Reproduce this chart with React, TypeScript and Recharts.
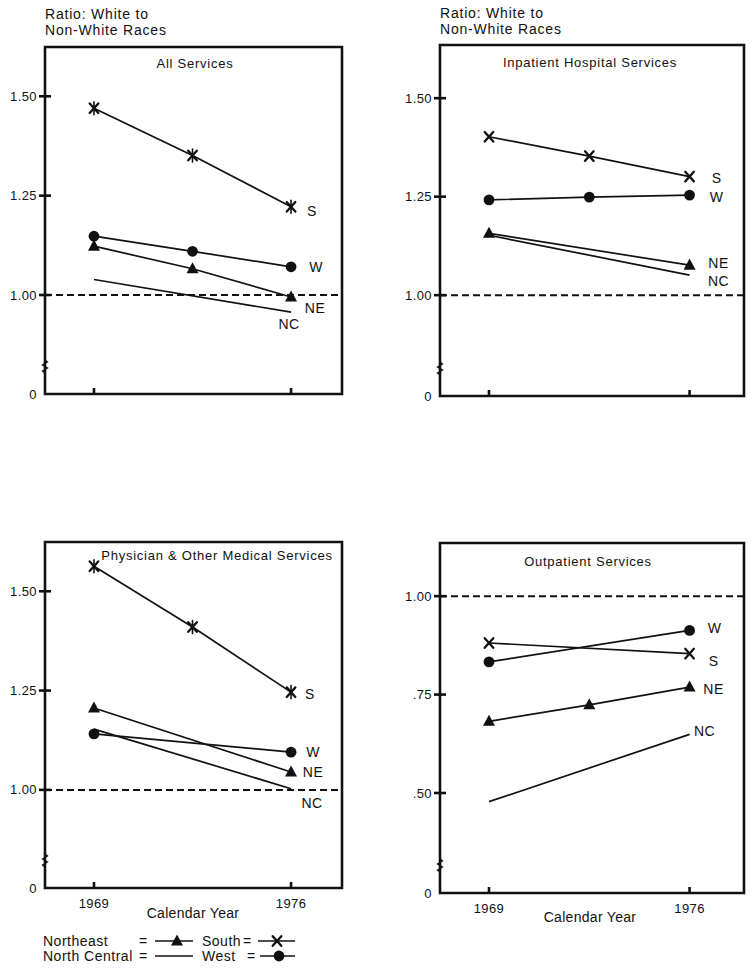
import React from 'react';
import { LineChart, Line, XAxis, YAxis, ReferenceLine, ReferenceArea } from 'recharts';

const FONT = '"Liberation Sans", Arial, Helvetica, sans-serif';
const INK = '#111';

// ---- categories ----
const years = [1969, 1972.5, 1976];
const yearTicks = [1969, 1976];
const regionKeys = ['ne', 'nc', 's', 'w'];
const regionShort: Record<string, string> = { ne: 'NE', nc: 'NC', s: 'S', w: 'W' };
const legendNames = ['Northeast', 'North Central', 'South', 'West'];
const panelTitles = [
  'All Services',
  'Inpatient Hospital Services',
  'Physician & Other Medical Services',
  'Outpatient Services',
];
const axisTitleLines = ['Ratio: White to', 'Non-White Races'];
const xAxisTitle = 'Calendar Year';

// ---- series values (ratio white : non-white) ----
// All Services
const allNE = [1.123, 1.066, 0.995];
const allNC = [1.039, null, 0.957];
const allS = [1.47, 1.351, 1.222];
const allW = [1.148, 1.11, 1.071];
// Inpatient Hospital Services
const inpNE = [1.157, null, 1.076];
const inpNC = [1.152, null, 1.051];
const inpS = [1.402, 1.353, 1.301];
const inpW = [1.242, 1.249, 1.254];
// Physician & Other Medical Services
const phyNE = [1.206, null, 1.045];
const phyNC = [1.153, null, 1.003];
const phyS = [1.563, 1.41, 1.246];
const phyW = [1.141, null, 1.095];
// Outpatient Services
const outNE = [0.682, 0.724, 0.769];
const outNC = [0.478, null, 0.649];
const outS = [0.881, null, 0.854];
const outW = [0.833, null, 0.913];

// ---- tick values / labels (bottom tick is a broken-axis "0") ----
const allTicks = [0.751, 1.0, 1.25, 1.5];
const inpTicks = [0.744, 1.0, 1.25, 1.5];
const phyTicks = [0.753, 1.0, 1.25, 1.5];
const outTicks = [0.246, 0.5, 0.75, 1.0];
const upperTickLabels = ['0', '1.00', '1.25', '1.50'];
const outTickLabels = ['0', '.50', '.75', '1.00'];

const buildRows = (ne: any[], nc: any[], s: any[], w: any[]) =>
  years.map((year, i) => ({ year, ne: ne[i], nc: nc[i], s: s[i], w: w[i] }));

function Marker({ kind, cx, cy, star }: any) {
  if (kind === 'ne') {
    const s = 6;
    return (
      <polygon
        points={`${cx},${cy - s - 0.6} ${cx + s},${cy + s * 0.75} ${cx - s},${cy + s * 0.75}`}
        fill={INK}
      />
    );
  }
  if (kind === 'w') return <circle cx={cx} cy={cy} r={5.4} fill={INK} />;
  if (kind === 's') {
    const a = 4.3;
    return (
      <g stroke={INK} strokeWidth={2.3} strokeLinecap="round">
        <line x1={cx - a} y1={cy - a - 0.5} x2={cx + a} y2={cy + a + 0.5} />
        <line x1={cx + a} y1={cy - a - 0.5} x2={cx - a} y2={cy + a + 0.5} />
        {star && <line x1={cx} y1={cy - 6.5} x2={cx} y2={cy + 6.5} strokeWidth={1.6} />}
      </g>
    );
  }
  return null;
}

function makeDot(kind: string, off: number[], star: boolean) {
  return (props: any) => {
    const { cx, cy, index, value } = props;
    const key = `dot-${kind}-${index}`;
    if (cx == null || cy == null || value == null || Number.isNaN(cy)) return <g key={key} />;
    const last = index === years.length - 1;
    return (
      <g key={key}>
        {kind !== 'nc' && <Marker kind={kind} cx={cx} cy={cy} star={star} />}
        {last && (
          <text
            x={cx + off[0]}
            y={cy + off[1]}
            textAnchor="middle"
            dominantBaseline="central"
            fontSize={14}
            fontFamily={FONT}
            fill={INK}
            letterSpacing={0.5}
          >
            {regionShort[kind]}
          </text>
        )}
      </g>
    );
  };
}

function makeYTick(ticks: number[], labels: string[]) {
  return (props: any) => {
    const { x, y, payload } = props;
    const i = ticks.indexOf(payload.value);
    const isBase = i === 0;
    return (
      <g>
        {!isBase && <rect x={x - 6} y={y - 1.3} width={12} height={2.6} fill={INK} />}
        {isBase && (
          <path
            d={`M${x},${y - 34} l2.5,2 l-5,3 l5,3 l-5,3 l2.5,2`}
            fill="none"
            stroke={INK}
            strokeWidth={1.3}
          />
        )}
        <text
          x={x - 8}
          y={y}
          textAnchor="end"
          dominantBaseline="central"
          fontSize={13}
          fontFamily={FONT}
          fill={INK}
          letterSpacing={0.4}
        >
          {labels[i]}
        </text>
      </g>
    );
  };
}

function makeXTick(labelDy: number | null) {
  return (props: any) => {
    const { x, y, payload } = props;
    return (
      <g>
        <rect x={x - 1.3} y={y - 6} width={2.6} height={6} fill={INK} />
        {labelDy != null && (
          <text
            x={x}
            y={y + labelDy}
            textAnchor="middle"
            dominantBaseline="central"
            fontSize={13}
            fontFamily={FONT}
            fill={INK}
            letterSpacing={0.4}
          >
            {payload.value}
          </text>
        )}
      </g>
    );
  };
}

const panels = [
  {
    id: 'all',
    rows: buildRows(allNE, allNC, allS, allW),
    ticks: allTicks,
    tickLabels: upperTickLabels,
    xDomain: [1967.26, 1977.81],
    yDomain: [0.751, 1.624],
    star: true,
    offsets: { s: [21, 4], w: [25, 0], ne: [24, 11], nc: [-2, 12] } as any,
    layout: { left: 0, top: 0, width: 377, height: 420, margin: { top: 47, right: 35, bottom: 0, left: 0 }, yAxisWidth: 45, xAxisHeight: 26 },
    yearLabelDy: null,
  },
  {
    id: 'inp',
    rows: buildRows(inpNE, inpNC, inpS, inpW),
    ticks: inpTicks,
    tickLabels: upperTickLabels,
    xDomain: [1967.29, 1977.9],
    yDomain: [0.744, 1.635],
    star: false,
    offsets: { s: [27, 1], w: [27, 2], ne: [29, -2], nc: [29, 6] } as any,
    layout: { left: 377, top: 0, width: 377, height: 420, margin: { top: 45, right: 10, bottom: 0, left: 0 }, yAxisWidth: 63, xAxisHeight: 24 },
    yearLabelDy: null,
  },
  {
    id: 'phy',
    rows: buildRows(phyNE, phyNC, phyS, phyW),
    ticks: phyTicks,
    tickLabels: upperTickLabels,
    xDomain: [1967.26, 1977.81],
    yDomain: [0.753, 1.624],
    star: true,
    offsets: { s: [19, 2], w: [22, 0], ne: [22, 0], nc: [21, 14] } as any,
    layout: { left: 0, top: 490, width: 377, height: 450, margin: { top: 52, right: 35, bottom: 0, left: 0 }, yAxisWidth: 45, xAxisHeight: 52 },
    yearLabelDy: 15,
  },
  {
    id: 'out',
    rows: buildRows(outNE, outNC, outS, outW),
    ticks: outTicks,
    tickLabels: outTickLabels,
    xDomain: [1967.29, 1977.9],
    yDomain: [0.246, 1.135],
    star: false,
    offsets: { w: [25, -2], s: [24, 7], ne: [24, 2], nc: [15, -3] } as any,
    layout: { left: 377, top: 490, width: 377, height: 450, margin: { top: 53, right: 10, bottom: 0, left: 0 }, yAxisWidth: 63, xAxisHeight: 47 },
    yearLabelDy: 15,
  },
];

function Panel({ p }: any) {
  const L = p.layout;
  return (
    <div style={{ position: 'absolute', left: L.left, top: L.top }}>
      <LineChart width={L.width} height={L.height} data={p.rows} margin={L.margin}>
        <ReferenceArea
          x1={p.xDomain[0]}
          x2={p.xDomain[1]}
          y1={p.yDomain[0]}
          y2={p.yDomain[1]}
          fill="none"
          fillOpacity={0}
          stroke={INK}
          strokeWidth={2.6}
          ifOverflow="visible"
        />
        <ReferenceLine y={1} stroke={INK} strokeWidth={2} strokeDasharray="7 4" ifOverflow="visible" />
        <XAxis
          dataKey="year"
          type="number"
          domain={p.xDomain}
          ticks={yearTicks}
          interval={0}
          height={L.xAxisHeight}
          axisLine={false}
          tickLine={false}
          tickSize={0}
          tickMargin={0}
          tick={makeXTick(p.yearLabelDy)}
        />
        <YAxis
          type="number"
          domain={p.yDomain}
          ticks={p.ticks}
          interval={0}
          width={L.yAxisWidth}
          axisLine={false}
          tickLine={false}
          tickSize={0}
          tickMargin={0}
          tick={makeYTick(p.ticks, p.tickLabels)}
        />
        {regionKeys.map((k) => (
          <Line
            key={k}
            type="linear"
            dataKey={k}
            stroke={INK}
            strokeWidth={1.7}
            connectNulls
            isAnimationActive={false}
            activeDot={false}
            dot={makeDot(k, p.offsets[k], p.star)}
          />
        ))}
      </LineChart>
    </div>
  );
}

const textBase: React.CSSProperties = {
  position: 'absolute',
  fontFamily: FONT,
  color: INK,
  whiteSpace: 'nowrap',
};

const titlePos = [
  { left: 45, top: 56, width: 300 },
  { left: 440, top: 55, width: 300 },
  { left: 67, top: 548, width: 300 },
  { left: 438, top: 554, width: 300 },
];

export default function App() {
  return (
    <div style={{ position: 'absolute', left: 0, top: 0, width: 754, height: 974, background: '#fff', overflow: 'hidden' }}>
      {panels.map((p) => (
        <Panel key={p.id} p={p} />
      ))}

      {/* y-axis titles */}
      {[45, 440].map((left, i) => (
        <div key={`yt-${i}`} style={{ ...textBase, left, top: i === 0 ? 6 : 5, fontSize: 14, lineHeight: '16px', letterSpacing: 0.8 }}>
          {axisTitleLines[0]}
          <br />
          {axisTitleLines[1]}
        </div>
      ))}

      {/* panel titles */}
      {panelTitles.map((t, i) => (
        <div
          key={`pt-${i}`}
          style={{ ...textBase, left: titlePos[i].left, top: titlePos[i].top, width: titlePos[i].width, textAlign: 'center', fontSize: 13, lineHeight: '16px', letterSpacing: 0.75 }}
        >
          {t}
        </div>
      ))}

      {/* x-axis titles */}
      {[{ left: 93, top: 905 }, { left: 490, top: 909 }].map((pos, i) => (
        <div key={`xt-${i}`} style={{ ...textBase, left: pos.left, top: pos.top, width: 200, textAlign: 'center', fontSize: 14, lineHeight: '16px', letterSpacing: 0.3 }}>
          {xAxisTitle}
        </div>
      ))}

      {/* legend */}
      {[
        { t: legendNames[0], left: 43, top: 933 },
        { t: legendNames[1], left: 43, top: 948 },
        { t: '=', left: 139, top: 933 },
        { t: '=', left: 139, top: 948 },
        { t: legendNames[2], left: 202, top: 933 },
        { t: '=', left: 243, top: 933 },
        { t: legendNames[3], left: 202, top: 948 },
        { t: '=', left: 247, top: 948 },
      ].map((e, i) => (
        <div key={`lg-${i}`} style={{ ...textBase, left: e.left, top: e.top, fontSize: 14, lineHeight: '16px', letterSpacing: 0.5 }}>
          {e.t}
        </div>
      ))}
      <svg style={{ position: 'absolute', left: 0, top: 930 }} width={320} height={40}>
        <line x1={155} x2={193} y1={11} y2={11} stroke={INK} strokeWidth={1.7} />
        <Marker kind="ne" cx={177} cy={11} />
        <line x1={155} x2={193} y1={26} y2={26} stroke={INK} strokeWidth={1.7} />
        <line x1={258} x2={295} y1={11} y2={11} stroke={INK} strokeWidth={1.7} />
        <Marker kind="s" cx={277} cy={11} star={false} />
        <line x1={260} x2={295} y1={26} y2={26} stroke={INK} strokeWidth={1.7} />
        <Marker kind="w" cx={279} cy={26} />
      </svg>
    </div>
  );
}
